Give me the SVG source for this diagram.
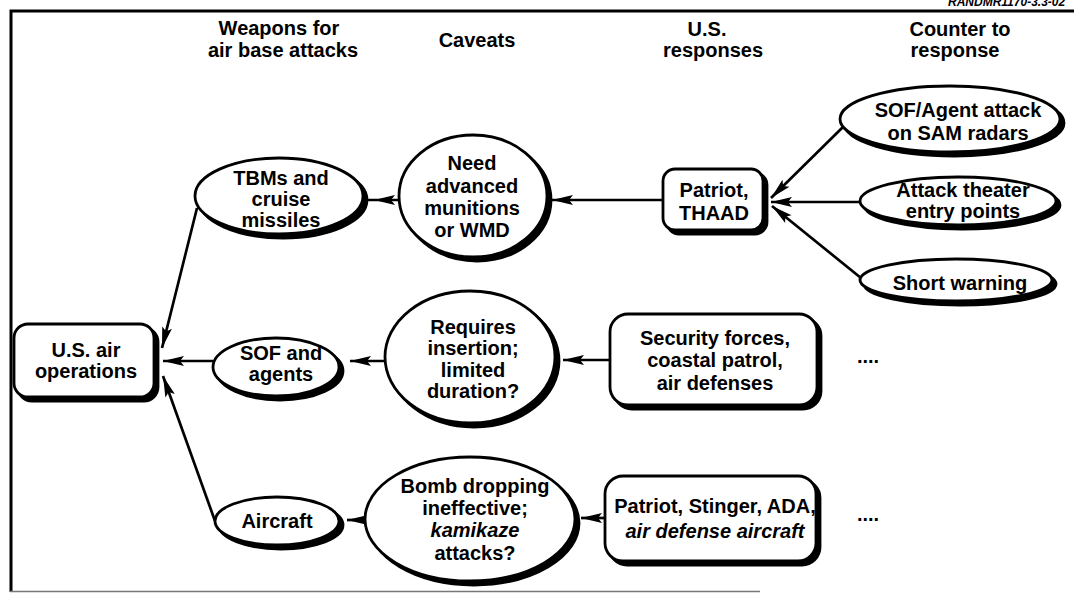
<svg xmlns="http://www.w3.org/2000/svg" width="1074" height="593" viewBox="0 0 1074 593">
<style>
.n{fill:#fff;stroke:#000;stroke-width:2.8}
.sh{fill:#000;stroke:#000;stroke-width:2.8}
.t{font-family:"Liberation Sans",Arial,Helvetica,sans-serif;font-weight:bold;font-size:20px;text-anchor:middle;fill:#000}
.i{font-style:italic}
.c{stroke:#000;stroke-width:2.7;fill:none;marker-end:url(#ah)}
.cm{stroke:#000;stroke-width:2.7;fill:none;marker-mid:url(#ah)}
.f{stroke:#000;stroke-width:3;fill:none}
</style>
<defs>
<marker id="ah" markerUnits="userSpaceOnUse" markerWidth="22" markerHeight="11" refX="21" refY="5" orient="auto" overflow="visible">
<path d="M0,0 L21,5 L0,10 L4,5 Z" fill="#000"/>
</marker>
</defs>
<rect width="1074" height="593" fill="#fff"/>
<g id="frame">
<path class="f" d="M11,592 V11 H1074"/>
<path d="M10,591.5 H760" stroke="#777" stroke-width="1.5"/>
<text x="948" y="6" style="font-family:'Liberation Sans',Arial,sans-serif;font-weight:bold;font-style:italic;font-size:12px">RANDMR1170-3.3-02</text>
</g>
<g id="headers" class="t">
<text x="279" y="35">Weapons for</text>
<text x="283" y="57">air base attacks</text>
<text x="477" y="47">Caveats</text>
<text x="707" y="36">U.S.</text>
<text x="713" y="57">responses</text>
<text x="960" y="36">Counter to</text>
<text x="955" y="57">response</text>
</g>
<g id="connectors">
<path class="cm" d="M399,200 H374 H365"/>
<path class="c" d="M663,200 H552"/>
<path class="c" d="M843,127 L771,198"/>
<path class="c" d="M860,202 H771"/>
<path class="c" d="M861,278 L772,206"/>
<path class="c" d="M610,360 H563"/>
<path class="c" d="M386,361 H350"/>
<path class="c" d="M213,361 H163"/>
<path class="c" d="M197,208 L162,348"/>
<path class="c" d="M215,521 L163,376"/>
<path class="c" d="M366,520 H347"/>
<path class="c" d="M605,518 H581"/>
</g>
<g id="ops">
<rect class="sh" x="18" y="328" width="140" height="73" rx="14"/>
<rect class="n" x="14" y="324" width="140" height="73" rx="14"/>
<text class="t" x="86" y="357">U.S. air</text>
<text class="t" x="86" y="378">operations</text>
</g>
<g id="tbms">
<ellipse class="sh" cx="283" cy="200" rx="84" ry="38"/>
<ellipse class="n" cx="279" cy="196" rx="84" ry="38"/>
<text class="t" x="281" y="185">TBMs and</text>
<text class="t" x="281" y="206">cruise</text>
<text class="t" x="281" y="227">missiles</text>
</g>
<g id="sof">
<ellipse class="sh" cx="280" cy="371" rx="63" ry="29"/>
<ellipse class="n" cx="276" cy="367" rx="63" ry="29"/>
<text class="t" x="281" y="360">SOF and</text>
<text class="t" x="281" y="381">agents</text>
</g>
<g id="aircraft">
<ellipse class="sh" cx="281" cy="525" rx="62" ry="24"/>
<ellipse class="n" cx="277" cy="521" rx="62" ry="24"/>
<text class="t" x="277" y="528">Aircraft</text>
</g>
<g id="need">
<ellipse class="sh" cx="477" cy="200" rx="74" ry="61"/>
<ellipse class="n" cx="473" cy="196" rx="74" ry="61"/>
<text class="t" x="472" y="170">Need</text>
<text class="t" x="472" y="193">advanced</text>
<text class="t" x="472" y="215">munitions</text>
<text class="t" x="472" y="237">or WMD</text>
</g>
<g id="requires">
<ellipse class="sh" cx="474" cy="361" rx="85" ry="66"/>
<ellipse class="n" cx="470" cy="357" rx="85" ry="66"/>
<text class="t" x="473" y="334">Requires</text>
<text class="t" x="473" y="355">insertion;</text>
<text class="t" x="473" y="377">limited</text>
<text class="t" x="473" y="398">duration?</text>
</g>
<g id="bomb">
<ellipse class="sh" cx="474" cy="523" rx="105" ry="62"/>
<ellipse class="n" cx="470" cy="519" rx="105" ry="62"/>
<text class="t" x="475" y="493">Bomb dropping</text>
<text class="t" x="475" y="515">ineffective;</text>
<text class="t i" x="475" y="537">kamikaze</text>
<text class="t" x="475" y="560">attacks?</text>
</g>
<g id="patriot">
<rect class="sh" x="667" y="173" width="100" height="61" rx="12"/>
<rect class="n" x="663" y="169" width="100" height="61" rx="12"/>
<text class="t" x="714" y="197">Patriot,</text>
<text class="t" x="714" y="220">THAAD</text>
</g>
<g id="security">
<rect class="sh" x="614" y="318" width="207" height="91" rx="18"/>
<rect class="n" x="610" y="314" width="207" height="91" rx="18"/>
<text class="t" x="715" y="345">Security forces,</text>
<text class="t" x="715" y="367">coastal patrol,</text>
<text class="t" x="715" y="390">air defenses</text>
</g>
<g id="stinger">
<rect class="sh" x="609" y="480" width="211" height="85" rx="18"/>
<rect class="n" x="605" y="476" width="211" height="85" rx="18"/>
<text class="t" x="715" y="513">Patriot, Stinger, ADA,</text>
<text class="t i" x="715" y="538">air defense aircraft</text>
</g>
<g id="sofagent">
<ellipse class="sh" cx="954" cy="123" rx="110" ry="33"/>
<ellipse class="n" cx="950" cy="119" rx="110" ry="33"/>
<text class="t" x="958" y="117">SOF/Agent attack</text>
<text class="t" x="958" y="140">on SAM radars</text>
</g>
<g id="theater">
<ellipse class="sh" cx="962" cy="205" rx="98" ry="24"/>
<ellipse class="n" cx="958" cy="201" rx="98" ry="24"/>
<text class="t" x="963" y="197">Attack theater</text>
<text class="t" x="963" y="218">entry points</text>
</g>
<g id="warning">
<ellipse class="sh" cx="960" cy="284" rx="96" ry="21"/>
<ellipse class="n" cx="956" cy="280" rx="96" ry="21"/>
<text class="t" x="960" y="290">Short warning</text>
</g>
<g id="dots" class="t">
<text x="868" y="363">....</text>
<text x="868" y="521">....</text>
</g>
</svg>
